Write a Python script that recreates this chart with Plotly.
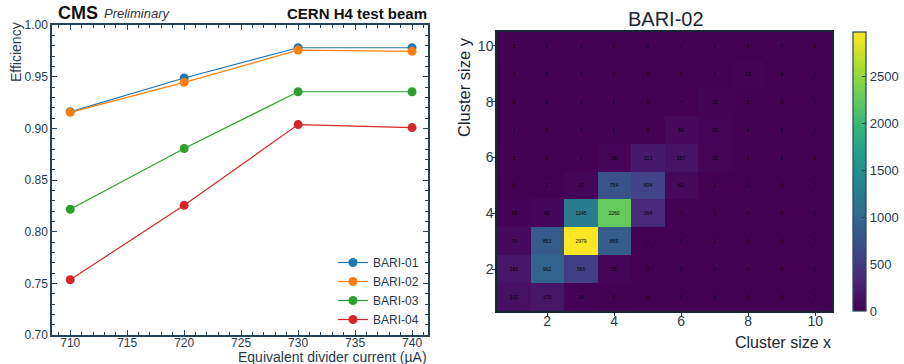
import plotly.graph_objects as go

# ---------------- data ----------------
currents = [710, 720, 730, 740]
bari01 = [0.916, 0.9487, 0.978, 0.978]
bari02 = [0.9155, 0.9445, 0.9757, 0.9745]
bari03 = [0.8217, 0.8805, 0.9354, 0.9354]
bari04 = [0.7535, 0.8255, 0.9036, 0.9007]
series_names = ["BARI-01", "BARI-02", "BARI-03", "BARI-04"]
series_colors = ["#1f77b4", "#ff7f0e", "#2ca02c", "#d62728"]

cluster_x = [1, 2, 3, 4, 5, 6, 7, 8, 9, 10]
cluster_y = [1, 2, 3, 4, 5, 6, 7, 8, 9, 10]
counts = [
    [132, 175, 18, 6, 0, 0, 0, 0, 0, 0],
    [181, 962, 566, 25, 3, 0, 0, 0, 0, 0],
    [79, 853, 2979, 865, 1, 0, 1, 0, 0, 0],
    [15, 41, 1245, 2260, 364, 1, 1, 0, 0, 0],
    [0, 2, 27, 754, 604, 61, 1, 1, 0, 0],
    [5, 1, 2, 26, 213, 157, 31, 6, 1, 1],
    [1, 1, 0, 1, 8, 61, 26, 4, 1, 0],
    [0, 0, 0, 1, 2, 4, 22, 5, 3, 0],
    [2, 0, 0, 0, 0, 1, 3, 13, 4, 0],
    [5, 2, 0, 0, 1, 2, 2, 4, 7, 1],
]
cbar_ticks = [0, 500, 1000, 1500, 2000, 2500]

# ---------------- figure ----------------
W, H = 904, 364
TXT = "#1f3a4e"
FRAME = "#25435a"
FONT = "Liberation Sans, Arial, sans-serif"

def px_x(p):
    return p / W

def px_y(p):
    return 1 - p / H

fig = go.Figure()

for name, vals, col in zip(series_names, [bari01, bari02, bari03, bari04], series_colors):
    fig.add_trace(go.Scatter(
        x=currents, y=vals, name=name, mode="lines+markers",
        line=dict(color=col, width=1.2),
        marker=dict(color=col, size=9),
        xaxis="x", yaxis="y",
    ))

fig.add_trace(go.Heatmap(
    x=cluster_x, y=cluster_y, z=counts,
    colorscale="Viridis", zmin=0, zmax=max(max(r) for r in counts),
    texttemplate="%{z}", textfont=dict(size=5, color="black", family=FONT),
    xaxis="x2", yaxis="y2", showscale=True,
    colorbar=dict(
        x=px_x(853), xanchor="left", y=px_y(32), yanchor="top",
        len=(311 - 32) / H, lenmode="fraction", thickness=13,
        xpad=0, ypad=0,
        tickvals=cbar_ticks, ticks="inside", ticklen=4, tickcolor=FRAME,
        tickfont=dict(size=13, color=TXT, family=FONT),
        outlinecolor=FRAME, outlinewidth=1.2,
    ),
    hoverinfo="skip", showlegend=False,
))

axis_common = dict(
    showline=True, linecolor=FRAME, linewidth=1.5, mirror="ticks",
    ticks="inside", ticklen=5, tickcolor=FRAME, showgrid=False, zeroline=False,
    tickfont=dict(size=12, color=TXT, family=FONT), automargin=False,
)

fig.update_layout(
    width=W, height=H,
    margin=dict(l=0, r=0, t=0, b=0, autoexpand=False),
    paper_bgcolor="white", plot_bgcolor="white",
    font=dict(family=FONT, color=TXT),
    xaxis=dict(
        domain=[px_x(52), px_x(428)], range=[708.4, 741.4],
        tickvals=[710, 715, 720, 725, 730, 735, 740],
        minor=dict(dtick=1, ticks="inside", ticklen=3, tickcolor=FRAME),
        anchor="y", ticklabelstandoff=-4, **axis_common,
    ),
    yaxis=dict(
        domain=[px_y(335), px_y(25)], range=[0.70, 1.00],
        tickvals=[0.70, 0.75, 0.80, 0.85, 0.90, 0.95, 1.00], tickformat=".2f",
        minor=dict(dtick=0.01, ticks="inside", ticklen=3, tickcolor=FRAME),
        anchor="x", **axis_common,
    ),
    xaxis2=dict(
        domain=[px_x(497), px_x(832)], range=[0.5, 10.5],
        tickvals=[2, 4, 6, 8, 10], anchor="y2", automargin=False,
        showline=True, linecolor="#1a2633", linewidth=1.5, mirror=True,
        ticks="outside", ticklen=3, tickcolor=FRAME, showgrid=False, zeroline=False,
        tickfont=dict(size=14, color=TXT, family=FONT), ticklabelstandoff=-7,
    ),
    yaxis2=dict(
        domain=[px_y(311), px_y(32)], range=[0.5, 10.5],
        tickvals=[2, 4, 6, 8, 10], anchor="x2", automargin=False,
        showline=True, linecolor="#1a2633", linewidth=1.5, mirror=True,
        ticks="outside", ticklen=3, tickcolor=FRAME, showgrid=False, zeroline=False,
        tickfont=dict(size=14, color=TXT, family=FONT), ticklabelstandoff=-4,
    ),
    legend=dict(
        x=px_x(424), xanchor="right", y=px_y(334), yanchor="bottom",
        bgcolor="rgba(0,0,0,0)", font=dict(size=12, color=TXT, family=FONT),
        tracegroupgap=0, itemwidth=30,
    ),
)

annots = [
    dict(text="<b>CMS</b>", x=px_x(56), y=px_y(13), xanchor="left", yanchor="middle",
         font=dict(size=18, color="#111111")),
    dict(text="<i>Preliminary</i>", x=px_x(102), y=px_y(14), xanchor="left", yanchor="middle",
         font=dict(size=13, color="#333333")),
    dict(text="<b>CERN H4 test beam</b>", x=px_x(429), y=px_y(14), xanchor="right", yanchor="middle",
         font=dict(size=15, color="#111111")),
    dict(text="Efficiency", x=px_x(16), y=px_y(20), xanchor="center", yanchor="top",
         textangle=-90, font=dict(size=14, color=TXT)),
    dict(text="Equivalent divider current (µA)", x=px_x(429), y=px_y(357), xanchor="right",
         yanchor="middle", font=dict(size=14, color=TXT)),
    dict(text="BARI-02", x=px_x(666), y=px_y(19), xanchor="center", yanchor="middle",
         font=dict(size=20, color="#1a2633")),
    dict(text="Cluster size x", x=px_x(833), y=px_y(342), xanchor="right", yanchor="middle",
         font=dict(size=16, color="#1a2633")),
    dict(text="Cluster size y", x=px_x(464), y=px_y(35), xanchor="center", yanchor="top",
         textangle=-90, font=dict(size=16.5, color="#1a2633")),
]
for a in annots:
    a.update(xref="paper", yref="paper", showarrow=False)
    a["font"]["family"] = FONT
    fig.add_annotation(**a)

fig.write_html(
    "out.html",
    config={"displayModeBar": False},
    post_script="document.body.style.margin='0';document.body.style.overflow='hidden';",
)
